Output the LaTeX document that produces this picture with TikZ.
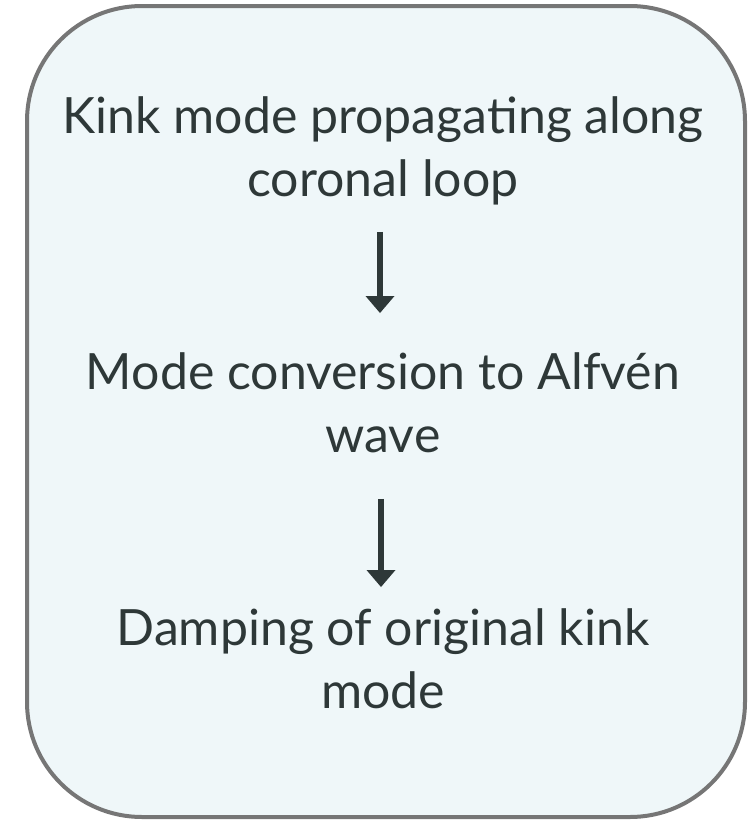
\documentclass[tikz,border=0pt]{standalone}
\usepackage{fontspec}
\setmainfont{Lato}
\usetikzlibrary{arrows.meta}
\definecolor{boxfill}{HTML}{EFF7F9}
\definecolor{boxline}{HTML}{767676}
\definecolor{ink}{HTML}{2E3838}
\newcommand{\topstrut}{\rule{0pt}{40pt}}
\newcommand{\botstrut}{\rule[-14pt]{0pt}{14pt}}
\tikzset{
  stagetext/.style={inner sep=0pt, align=center, text=ink, anchor=north,
    font=\fontsize{50}{63.5}\selectfont},
  flowarrow/.style={draw=ink, line width=6pt,
    -{Triangle[length=17pt,width=29pt,line width=0pt]}},
  frame/.style={draw=boxline, fill=boxfill, line width=4pt, rounded corners=115pt}
}
\begin{document}
\begin{tikzpicture}[x=1pt,y=-1pt]
\useasboundingbox (0,0) rectangle (752,820);
\path[frame] (27,6) rectangle (745,817);
\node[stagetext] (n1) at (383,93) {\topstrut Kink mode propagating along\\coronal loop\botstrut};
\node[stagetext] (n2) at (383,349) {\topstrut Mode conversion to Alfvén\\wave\botstrut};
\node[stagetext] (n3) at (383,605) {\topstrut Damping of original kink\\mode\botstrut};
\draw[flowarrow, shorten <=21pt, shorten >=36pt] ([xshift=-3pt]n1.south) -- ([xshift=-3pt]n2.north);
\draw[flowarrow, shorten <=32pt, shorten >=18pt] ([xshift=-2pt]n2.south) -- ([xshift=-2pt]n3.north);
\end{tikzpicture}
\end{document}
